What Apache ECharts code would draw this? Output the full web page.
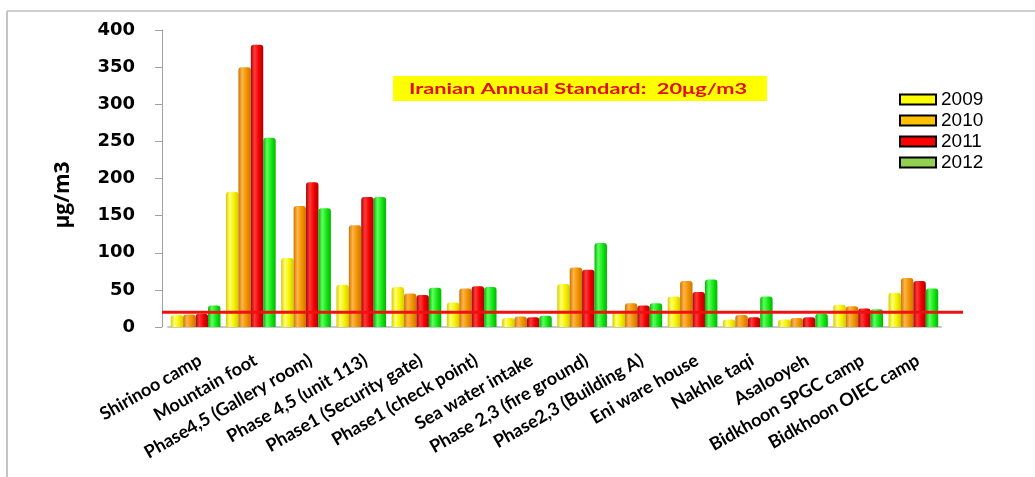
<!DOCTYPE html>
<html>
<head>
<meta charset="utf-8">
<script src="https://cdn.jsdelivr.net/npm/echarts@6/dist/echarts.min.js"></script>
<style>
  html, body { margin: 0; padding: 0; background: #ffffff; }
  #chart { width: 1035px; height: 477px; }
</style>
</head>
<body>
<div id="chart"></div>
<script>
// Monitoring sites along the x axis
const sites = [
  'Shirinoo camp', 'Mountain foot', 'Phase4,5 (Gallery room)', 'Phase 4,5 (unit 113)',
  'Phase1 (Security gate)', 'Phase1 (check point)', 'Sea water intake',
  'Phase 2,3 (fire ground)', 'Phase2,3 (Building A)', 'Eni ware house',
  'Nakhle taqi', 'Asalooyeh', 'Bidkhoon SPGC camp', 'Bidkhoon OIEC camp'
];

// Annual mean concentrations (µg/m3) per year
const y2009 = [16, 182, 93, 57, 54, 33, 12, 58, 22, 41, 10, 10, 30, 46];
const y2010 = [17, 350, 163, 137, 45, 52, 14, 80, 32, 62, 16, 12, 28, 66];
const y2011 = [18, 380, 195, 175, 43, 55, 13, 77, 29, 47, 13, 13, 25, 62];
const y2012 = [29, 255, 160, 175, 53, 54, 15, 113, 32, 64, 41, 18, 24, 52];

const years = ['2009', '2010', '2011', '2012'];
const standard = 20;
const yTicks = { min: 0, max: 400, step: 50 };

// Cylinder-like shading for each year's bars
function cylinder(edge, mid, hi) {
  return new echarts.graphic.LinearGradient(0, 0, 1, 0, [
    { offset: 0, color: edge },
    { offset: 0.3, color: hi },
    { offset: 0.65, color: mid },
    { offset: 1, color: edge }
  ]);
}
const barFills = [
  cylinder('#d4cc00', '#f6f200', '#ffff70'),
  cylinder('#cc7400', '#f29400', '#ffb44a'),
  cylinder('#b00000', '#f00000', '#ff3a3a'),
  cylinder('#00b400', '#14e814', '#60ff60')
];
const legendFills = ['#ffff00', '#ffc000', '#ff0000', '#92d050'];

const chart = echarts.init(document.getElementById('chart'));

const option = {
  backgroundColor: '#ffffff',
  animation: false,
  grid: { left: 168, right: 94, top: 30, bottom: 150 },
  legend: {
    orient: 'vertical',
    left: 894,
    top: 85,
    itemWidth: 36,
    itemHeight: 10,
    itemGap: 2,
    icon: 'rect',
    textStyle: { fontFamily: 'Liberation Sans', fontSize: 19, color: '#000' },
    data: years.map((y, i) => ({
      name: y,
      itemStyle: { color: legendFills[i], borderColor: '#000', borderWidth: 2 }
    }))
  },
  xAxis: {
    type: 'category',
    data: sites,
    axisLine: { show: true, lineStyle: { color: '#c8c8c8', width: 2 } },
    axisTick: { show: false },
    axisLabel: {
      rotate: 30,
      interval: 0,
      margin: 24,
      verticalAlign: 'top',
      fontFamily: 'Lato',
      fontWeight: 'bold',
      fontSize: 18,
      color: '#000'
    }
  },
  yAxis: {
    type: 'value',
    min: yTicks.min,
    max: yTicks.max,
    interval: yTicks.step,
    offset: 6,
    splitLine: { show: false },
    axisLine: { show: true, lineStyle: { color: '#a0a0a0', width: 1 } },
    axisTick: { show: true, length: 7, lineStyle: { color: '#a0a0a0' } },
    axisLabel: {
      margin: 27,
      fontFamily: 'DejaVu Sans',
      fontWeight: 'bold',
      fontSize: 18,
      color: '#000'
    }
  },
  series: [y2009, y2010, y2011, y2012].map((vals, i) => ({
    name: years[i],
    type: 'bar',
    data: vals,
    barGap: '0%',
    barCategoryGap: '10%',
    itemStyle: { color: barFills[i], borderRadius: [3, 3, 0, 0] }
  }))
};

chart.setOption(option);

// Standard limit line and its caption, placed through the value scale
const yStd = chart.convertToPixel({ yAxisIndex: 0 }, standard);
chart.setOption({
  graphic: [
    { type: 'line', shape: { x1: 7, y1: 11, x2: 1035, y2: 11 }, style: { stroke: '#cfcfcf', lineWidth: 2 } },
    { type: 'line', shape: { x1: 7, y1: 11, x2: 7, y2: 477 }, style: { stroke: '#c4c4c4', lineWidth: 2 } },
    {
      type: 'line', z: 100,
      shape: { x1: 162, y1: yStd, x2: 963, y2: yStd },
      style: { stroke: '#f01010', lineWidth: 3 }
    },
    {
      type: 'rect',
      shape: { x: 393, y: 76, width: 374, height: 25 },
      style: { fill: '#ffff00' }
    },
    {
      type: 'text',
      x: 578, y: 89,
      scaleX: 1.45,
      style: {
        text: 'Iranian Annual Standard:  20μg/m3',
        fill: '#e01010',
        font: 'bold 15px Lato',
        align: 'center',
        verticalAlign: 'middle'
      }
    },
    {
      type: 'text',
      x: 63, y: 195,
      rotation: Math.PI / 2,
      style: {
        text: 'μg/m3',
        fill: '#000',
        font: 'bold 21px "Open Sans"',
        align: 'center',
        verticalAlign: 'middle'
      }
    }
  ]
});
</script>
</body>
</html>
